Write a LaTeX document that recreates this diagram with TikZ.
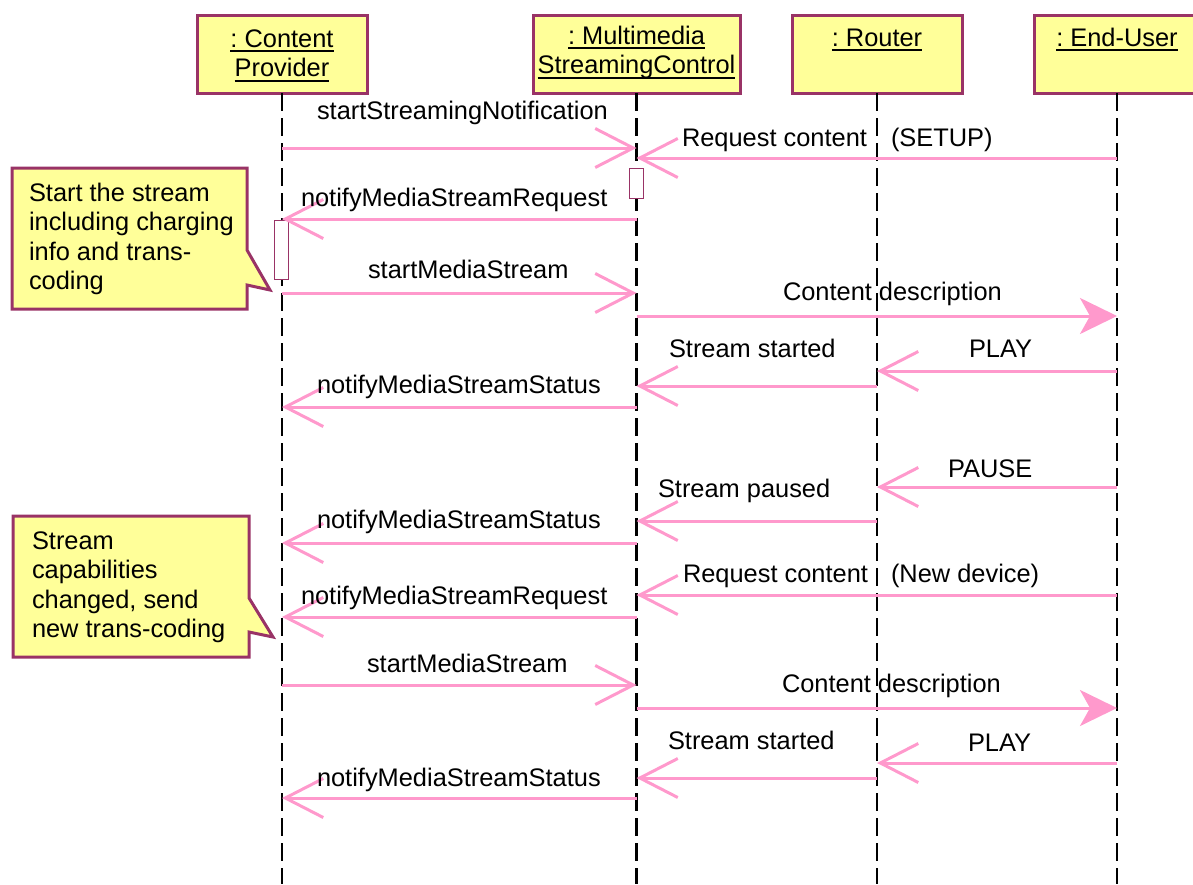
\documentclass[tikz,border=0pt]{standalone}
\usepackage{fontspec}
\setmainfont{Liberation Sans}
\usetikzlibrary{arrows.meta}
\definecolor{objfill}{HTML}{FFFF99}
\definecolor{objdraw}{HTML}{993366}
\definecolor{msgpink}{HTML}{FF99CC}
\frenchspacing
\newcommand\ulword[1]{\setbox0=\hbox{#1}\rlap{\rule[-5pt]{\wd0}{2pt}}\box0}
\begin{document}
\begin{tikzpicture}[x=1pt,y=1pt,
  every node/.style={font=\fontsize{25.4}{29.5}\selectfont\frenchspacing, inner sep=0pt, outer sep=0pt},
  objbox/.style={draw=objdraw, fill=objfill, line width=3pt, minimum height=78pt},
  objtext/.style={anchor=base},
  lifeline/.style={draw=black, line width=2.5pt, dash pattern=on 18pt off 7pt},
  actbox/.style={draw=objdraw, fill=white, line width=1pt, minimum width=14pt},
  msg/.style={draw=msgpink, line width=3pt, -{Straight Barb[length=38pt,width=39pt]}},
  msgf/.style={draw=msgpink, line width=3pt, -{Stealth[length=37pt,width=36pt,inset=10pt]}},
  note/.style={draw=objdraw, fill=objfill, line width=3pt, line join=miter},
  lbl/.style={anchor=base west}
]
\useasboundingbox (0,0) rectangle (1193,-884);

% object boxes
\node[objbox, minimum width=170pt, label={[objtext, yshift=-32pt]north:\begin{tabular}[t]{@{}c@{}}\ulword{: Content}\\\ulword{Provider}\end{tabular}}] (cp) at (282,-54) {};
\node[objbox, minimum width=207pt, label={[objtext, yshift=-29pt]north:\begin{tabular}[t]{@{}c@{}}\ulword{: Multimedia}\\\ulword{StreamingControl}\end{tabular}}] (msc) at (636.5,-54) {};
\node[objbox, minimum width=170pt, label={[objtext, yshift=-31pt]north:\ulword{: Router}}] (rt) at (877,-54) {};
\node[objbox, minimum width=166pt, label={[objtext, yshift=-31pt]north:\ulword{: End-User}}] (eu) at (1117,-54) {};

% lifelines
\coordinate (bot) at (0,-884);
\draw[lifeline] (cp.south) -- (cp.south |- bot);
\draw[lifeline] (msc.south) -- (msc.south |- bot);
\draw[lifeline] (rt.south) -- (rt.south |- bot);
\draw[lifeline] (eu.south) -- (eu.south |- bot);

% activation boxes
\node[actbox, minimum height=30pt] (act1) at (636,-183) {};
\node[actbox, minimum height=59pt] (act2) at (281,-249.5) {};

% notes
\draw[note] (12,-168) -- (247,-168) -- (247,-250) -- (270,-290) -- (247,-285) -- (247,-309) -- (12,-309) -- cycle;
\node[anchor=base west] (n1) at (29,-201) {\begin{tabular}[t]{@{}l@{}}Start the stream\\including charging\\info and trans-\\coding\end{tabular}};
\draw[note] (13,-516) -- (249,-516) -- (249,-598) -- (273,-637) -- (249,-632) -- (249,-657) -- (13,-657) -- cycle;
\node[anchor=base west] (n2) at (32,-549) {\begin{tabular}[t]{@{}l@{}}Stream\\capabilities\\changed, send\\new trans-coding\end{tabular}};

% messages
\draw[msg] (cp.south |- 0,-148) -- (msc.south |- 0,-148);
\node[lbl] (l1) at (317,-119) {startStreamingNotification};
\draw[msg] (eu.south |- 0,-158) -- (msc.south |- 0,-158);
\node[lbl] (l2a) at (682,-146) {Request content};
\node[lbl] (l2b) at (891,-146) {(SETUP)};
\draw[msg] (msc.south |- 0,-219) -- (cp.south |- 0,-219);
\node[lbl] (l3) at (301,-206) {notifyMediaStreamRequest};
\draw[msg] (cp.south |- 0,-293) -- (msc.south |- 0,-293);
\node[lbl] (l4) at (368,-278) {startMediaStream};
\draw[msgf] (msc.south |- 0,-316) -- (eu.south |- 0,-316);
\node[lbl] (l5) at (783,-300) {Content description};
\draw[msg] (eu.south |- 0,-371) -- (rt.south |- 0,-371);
\node[lbl] (l6) at (969,-357) {PLAY};
\draw[msg] (rt.south |- 0,-386) -- (msc.south |- 0,-386);
\node[lbl] (l7) at (669,-357) {Stream started};
\draw[msg] (msc.south |- 0,-407) -- (cp.south |- 0,-407);
\node[lbl] (l8) at (317,-393) {notifyMediaStreamStatus};
\draw[msg] (eu.south |- 0,-487) -- (rt.south |- 0,-487);
\node[lbl] (l9) at (948,-477) {PAUSE};
\draw[msg] (rt.south |- 0,-521) -- (msc.south |- 0,-521);
\node[lbl] (l10) at (658,-497) {Stream paused};
\draw[msg] (msc.south |- 0,-543) -- (cp.south |- 0,-543);
\node[lbl] (l11) at (317,-528) {notifyMediaStreamStatus};
\draw[msg] (eu.south |- 0,-595) -- (msc.south |- 0,-595);
\node[lbl] (l12a) at (683,-582) {Request content};
\node[lbl] (l12b) at (891,-582) {(New device)};
\draw[msg] (msc.south |- 0,-617) -- (cp.south |- 0,-617);
\node[lbl] (l13) at (301,-604) {notifyMediaStreamRequest};
\draw[msg] (cp.south |- 0,-685) -- (msc.south |- 0,-685);
\node[lbl] (l14) at (367,-672) {startMediaStream};
\draw[msgf] (msc.south |- 0,-708) -- (eu.south |- 0,-708);
\node[lbl] (l15) at (782,-692) {Content description};
\draw[msg] (eu.south |- 0,-763) -- (rt.south |- 0,-763);
\node[lbl] (l16) at (968,-751) {PLAY};
\draw[msg] (rt.south |- 0,-778) -- (msc.south |- 0,-778);
\node[lbl] (l17) at (668,-749) {Stream started};
\draw[msg] (msc.south |- 0,-798) -- (cp.south |- 0,-798);
\node[lbl] (l18) at (317,-786) {notifyMediaStreamStatus};
\end{tikzpicture}
\end{document}
